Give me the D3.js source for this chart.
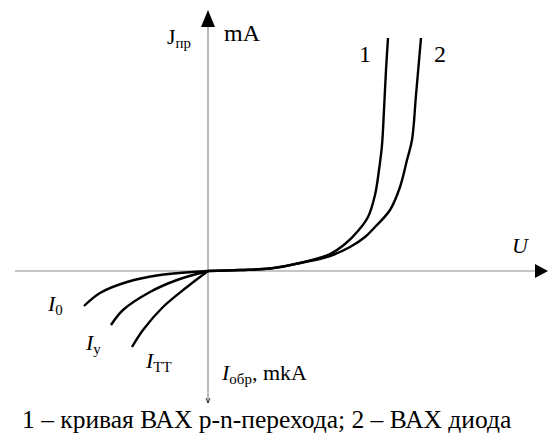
<!DOCTYPE html>
<html>
<head>
<meta charset="utf-8">
<script src="https://cdn.jsdelivr.net/npm/d3@7"></script>
<style>
  html, body { margin: 0; padding: 0; background: #fff; }
</style>
</head>
<body>
<svg id="chart" width="549" height="433"></svg>
<script>
// Forward branch (U in relative volts, J in mA, relative units)
const fwd1U = [0, 0.64, 1.24, 1.84, 2.44, 2.74, 3.0, 3.2, 3.34, 3.42, 3.48, 3.52, 3.56, 3.6];
const fwd1J = [0, 0.05, 0.125, 0.4, 0.85, 1.35, 2.0, 2.7, 3.8, 5.05, 6.3, 8.05, 10.05, 11.65];
const fwd2U = [0, 0.64, 1.24, 1.84, 2.44, 2.84, 3.14, 3.34, 3.64, 3.84, 3.98, 4.08, 4.16, 4.26];
const fwd2J = [0, 0.05, 0.125, 0.4, 0.75, 1.2, 1.7, 2.2, 3.05, 4.2, 5.55, 6.55, 8.8, 11.65];

// Reverse branch (U negative, I in mkA, relative units)
const revI0U  = [0, -0.96, -1.62, -2.16, -2.48];
const revI0J  = [0, -0.2, -0.55, -1.1, -1.75];
const revIyU  = [0, -0.62, -1.16, -1.7, -1.94];
const revIyJ  = [0, -0.45, -1.05, -1.95, -2.7];
const revITTU = [0, -0.42, -0.9, -1.3, -1.52];
const revITTJ = [0, -0.8, -1.8, -2.95, -3.8];

// Axis extents
const uRange = [-3.86, 6.8];
const jRange = [-6.6, 13.05];

const FONT = "'Liberation Serif', 'DejaVu Serif', 'Times New Roman', serif";

const svg = d3.select("#chart");
const x = d3.scaleLinear().domain(uRange).range([15, 548]);
const y = d3.scaleLinear().domain(jRange).range([403, 10]);

const x0 = x(0), y0 = y(0);

// Axes
svg.append("line")
  .attr("x1", x(uRange[0])).attr("x2", x(uRange[1]) - 10)
  .attr("y1", y0).attr("y2", y0)
  .attr("stroke", "#8c8c8c").attr("stroke-width", 1.2);
svg.append("line")
  .attr("x1", x0).attr("x2", x0)
  .attr("y1", y(jRange[1]) + 10).attr("y2", y(jRange[0]))
  .attr("stroke", "#8c8c8c").attr("stroke-width", 1.2);

// Arrowheads
const xe = x(uRange[1]), yt = y(jRange[1]), yb = y(jRange[0]);
svg.append("path")
  .attr("d", `M${xe},${y0} L${xe - 13},${y0 - 7} L${xe - 13},${y0 + 7} Z`)
  .attr("fill", "#000");
svg.append("path")
  .attr("d", `M${x0},${yt} L${x0 - 7},${yt + 17} L${x0 + 7},${yt + 17} Z`)
  .attr("fill", "#000");
svg.append("path")
  .attr("d", `M${x0 - 2},${yb - 5} L${x0},${yb} L${x0 + 2},${yb - 5}`)
  .attr("fill", "none").attr("stroke", "#000").attr("stroke-width", 0.8);

// Curves
const line = d3.line()
  .x(d => x(d[0])).y(d => y(d[1]))
  .curve(d3.curveCatmullRom.alpha(0.5));
const series = [
  [fwd1U, fwd1J], [fwd2U, fwd2J],
  [revI0U, revI0J], [revIyU, revIyJ], [revITTU, revITTJ]
];
series.forEach(([us, js]) => {
  svg.append("path")
    .datum(d3.zip(us, js))
    .attr("d", line)
    .attr("fill", "none")
    .attr("stroke", "#000")
    .attr("stroke-width", 2.4)
    .attr("stroke-linecap", "butt");
});

function text(px, py, size) {
  return svg.append("text")
    .attr("x", px).attr("y", py)
    .attr("font-family", FONT)
    .attr("font-size", size)
    .attr("fill", "#000");
}

// Labels with subscripts
function sublabel(px, py, main, sub, italic, size, tail) {
  const t = text(px, py, size);
  t.append("tspan").text(main).attr("font-style", italic ? "italic" : "normal");
  t.append("tspan").text(sub).attr("font-size", size * 0.68).attr("dy", 4);
  if (tail) t.append("tspan").text(tail).attr("dy", -4);
  return t;
}

sublabel(167, 44, "J", "пр", false, 22);
text(224, 41, 24).text("mA");
text(359, 62, 24).text("1");
text(434, 62, 24).text("2");
text(512, 253, 22).attr("font-style", "italic").text("U");

sublabel(48, 311, "I", "0", true, 22);
sublabel(86, 350, "I", "у", true, 22);
sublabel(146, 368, "I", "ТТ", true, 22);
sublabel(222, 380, "I", "обр", true, 22, ", mkA");

text(22, 428, 25.5).text("1 – кривая ВАХ p-n-перехода; 2 – ВАХ диода");
</script>
</body>
</html>
